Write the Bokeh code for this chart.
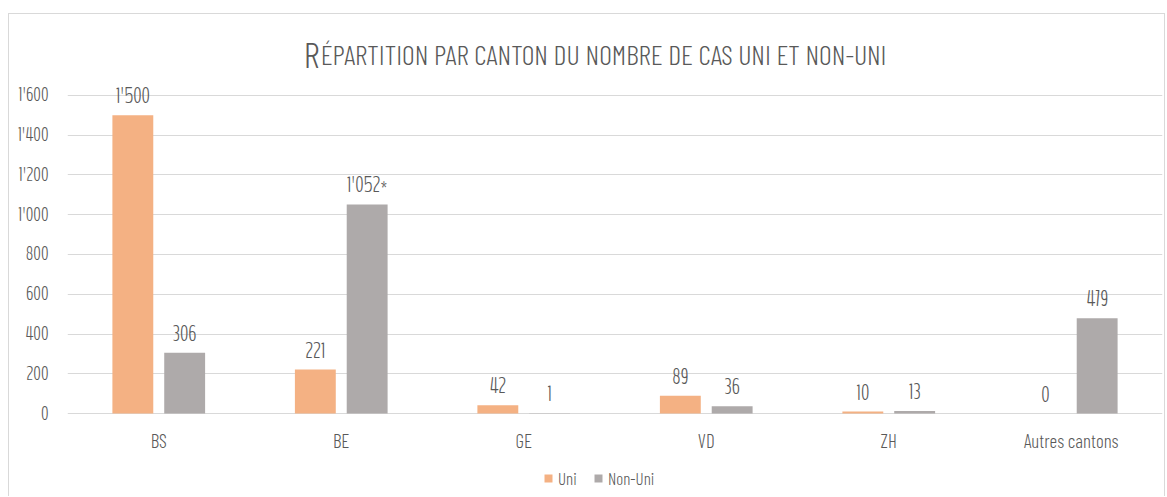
from bokeh.plotting import figure
from bokeh.models import (FactorRange, ColumnDataSource, LabelSet, Label, Legend, LegendItem,
                          FixedTicker, Range1d)
from bokeh.transform import dodge
from bokeh.core.properties import value
from bokeh.embed import file_html
from bokeh.resources import INLINE

# ---- data ----
cantons = ["BS", "BE", "GE", "VD", "ZH", "Autres cantons"]
uni = [1500, 221, 42, 89, 10, 0]
non_uni = [306, 1052, 1, 36, 13, 479]
uni_labels = ["1'500", "221", "42", "89", "10", "0"]
non_uni_labels = ["306", "1'052*", "1", "36", "13", "479"]
series_names = ["Uni", "Non-Uni"]
y_ticks = [0, 200, 400, 600, 800, 1000, 1200, 1400, 1600]
y_tick_labels = ["0", "200", "400", "600", "800", "1'000", "1'200", "1'400", "1'600"]
title_first = "R"
title_rest = "ÉPARTITION PAR CANTON DU NOMBRE DE CAS UNI ET NON-UNI"

NUM_FONT = "BenchNine Light"
FONT = "Barlow Condensed Light"
TXT = "#595959"
ORANGE = "#F4B183"
GREY = "#AEAAAA"
GRID = "#D9D9D9"

src = ColumnDataSource(dict(cat=cantons, uni=uni, non=non_uni, ul=uni_labels, nl=non_uni_labels))

p = figure(x_range=FactorRange(*cantons, range_padding=0), y_range=Range1d(-422.6, 2007.5),
           width=1157, height=483, output_backend="svg", toolbar_location=None,
           min_border_left=58, min_border_right=4, min_border_top=0, min_border_bottom=0,
           outline_line_color=None)
p.styles = {"margin-top": "13px", "margin-left": "8px",
            "border-left": "1px solid #D9D9D9", "border-top": "1px solid #D9D9D9",
            "border-right": "1px solid #D9D9D9"}

off = 0.142
w = 0.224
r1 = p.vbar(x=dodge("cat", -off, range=p.x_range), top="uni", width=w, source=src,
            fill_color=ORANGE, line_color=None)
r2 = p.vbar(x=dodge("cat", off, range=p.x_range), top="non", width=w, source=src,
            fill_color=GREY, line_color=None)

for col, lab, o in (("uni", "ul", -off), ("non", "nl", off)):
    p.add_layout(LabelSet(x=dodge("cat", o, range=p.x_range), y=col, text=lab, source=src,
                          y_offset=12, text_align="center", text_baseline="alphabetic",
                          text_font=value(NUM_FONT), text_font_size="21px", text_color=TXT))

# category labels (x axis)
p.xaxis.visible = False
p.text(x="cat", y=-138, text="cat", source=src, text_align="center", text_baseline="middle",
       text_font=value(FONT), text_font_size="19px", text_color=TXT)

# y axis
p.yaxis.ticker = FixedTicker(ticks=y_ticks)
p.yaxis.major_label_overrides = {t: l for t, l in zip(y_ticks, y_tick_labels)}
p.yaxis.axis_line_color = None
p.yaxis.major_tick_line_color = None
p.yaxis.minor_tick_line_color = None
p.yaxis.major_tick_out = 0
p.yaxis.major_tick_in = 0
p.yaxis.major_label_standoff = 19
p.yaxis.major_label_text_font = NUM_FONT
p.yaxis.major_label_text_font_size = "19px"
p.yaxis.major_label_text_color = TXT
p.xgrid.grid_line_color = None
p.ygrid.grid_line_color = GRID
p.ygrid.ticker = FixedTicker(ticks=y_ticks)

# title (small caps emulation)
p.add_layout(Label(x=(303 - 67) / 182.4, y=1811, text=title_first, text_font=FONT,
                   text_font_size="36px", text_color=TXT, text_align="left",
                   text_baseline="alphabetic"))
p.add_layout(Label(x=(320 - 67) / 182.4, y=1811, text=title_rest, text_font=FONT,
                   text_font_size="28px", text_color=TXT, text_align="left",
                   text_baseline="alphabetic"))

legend = Legend(items=[LegendItem(label=series_names[0], renderers=[r1]),
                       LegendItem(label=series_names[1], renderers=[r2])],
                orientation="horizontal", location=(476, 9), padding=0, margin=0,
                border_line_color=None, background_fill_alpha=0,
                glyph_width=10, glyph_height=10, label_text_font=FONT,
                label_text_font_size="17px", label_text_color=TXT,
                spacing=15, label_standoff=5)
p.add_layout(legend, "center")

open("out.html", "w").write(file_html(p, INLINE))
